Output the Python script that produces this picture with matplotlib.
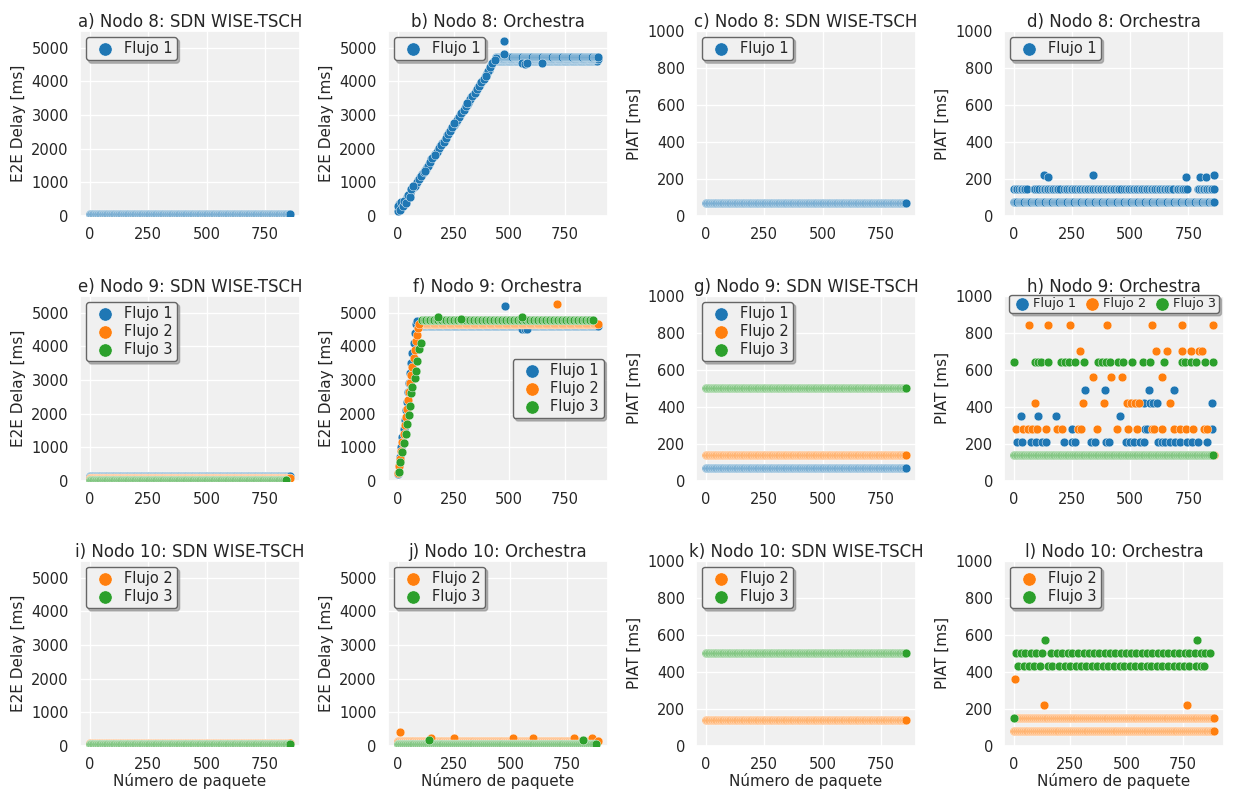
import numpy as np
import matplotlib
matplotlib.use("Agg")
import matplotlib.pyplot as plt
import seaborn as sns

# ------------------------------------------------------------------ textos
titulos = [
    "a) Nodo 8: SDN WISE-TSCH", "b) Nodo 8: Orchestra", "c) Nodo 8: SDN WISE-TSCH", "d) Nodo 8: Orchestra",
    "e) Nodo 9: SDN WISE-TSCH", "f) Nodo 9: Orchestra", "g) Nodo 9: SDN WISE-TSCH", "h) Nodo 9: Orchestra",
    "i) Nodo 10: SDN WISE-TSCH", "j) Nodo 10: Orchestra", "k) Nodo 10: SDN WISE-TSCH", "l) Nodo 10: Orchestra",
]
etiquetas_y = ["E2E Delay [ms]", "E2E Delay [ms]", "PIAT [ms]", "PIAT [ms]"]
etiqueta_x = "Número de paquete"
flujos = ["Flujo 1", "Flujo 2", "Flujo 3"]
x_ticks = [0, 250, 500, 750]
y_ticks_e2e = [0, 1000, 2000, 3000, 4000, 5000]
y_ticks_piat = [0, 200, 400, 600, 800, 1000]

# ------------------------------------------------------------------ datos
# Bandas de valor constante: [primer paquete, ultimo paquete, valor ms, cada n paquetes]
a_f1_bandas = [[0, 860, 60, 3]]
c_f1_bandas = [[0, 860, 70, 3]]
e_f1_bandas = [[0, 860, 150, 3]]
e_f2_bandas = [[0, 860, 100, 3]]
e_f3_bandas = [[0, 845, 30, 3]]
g_f1_bandas = [[0, 860, 70, 3]]
g_f2_bandas = [[0, 860, 140, 3]]
g_f3_bandas = [[0, 860, 500, 3]]
i_f2_bandas = [[0, 860, 100, 3]]
i_f3_bandas = [[0, 860, 50, 3]]
k_f2_bandas = [[0, 860, 140, 3]]
k_f3_bandas = [[0, 860, 500, 3]]

# b) Nodo 8 Orchestra, E2E flujo 1: rampa y meseta
b_f1_x = [0, 10, 20, 30, 40, 50, 60, 70, 80, 90, 100, 110, 120, 130, 140, 150, 160, 170, 180, 190,
          200, 210, 220, 230, 240, 250, 260, 270, 280, 290, 300, 310, 320, 330, 340, 350, 360, 370,
          380, 390, 400, 410, 420, 430, 440,
          5, 15, 25, 35, 45, 55, 65, 75, 85, 95, 105, 115, 125, 135, 145, 155, 165, 175, 185, 195,
          205, 215, 225, 235, 245, 255, 265, 275, 285, 295, 305, 315, 325, 335, 345, 355, 365, 375,
          385, 395, 405, 415, 425, 435,
          2, 8, 14, 22, 28, 36, 44, 52, 58, 66, 120, 165, 250, 310, 395,
          475, 475, 560, 570, 580, 650]
b_f1_y = [150, 250, 330, 420, 560, 640, 780, 850, 950, 1060, 1150, 1260, 1380, 1450, 1560, 1680, 1780,
          1880, 1950, 2080, 2170, 2260, 2400, 2500, 2580, 2690, 2800, 2900, 3010, 3100, 3200, 3310, 3420,
          3530, 3620, 3700, 3820, 3920, 4020, 4120, 4250, 4350, 4480, 4600, 4680,
          350, 330, 380, 480, 600, 700, 820, 900, 1010, 1100, 1200, 1320, 1410, 1500, 1620, 1730, 1830,
          1910, 2020, 2120, 2210, 2330, 2450, 2540, 2640, 2750, 2850, 2950, 3060, 3150, 3260, 3360, 3480,
          3570, 3660, 3760, 3870, 3970, 4070, 4190, 4300, 4420, 4540, 4640,
          300, 180, 420, 300, 450, 380, 620, 560, 800, 900, 1350, 1800, 2750, 3350, 4150,
          5200, 4800, 4540, 4520, 4540, 4550]
b_f1_bandas = [[445, 900, 4610, 4], [450, 900, 4660, 4], [440, 900, 4710, 5]]

# d) Nodo 8 Orchestra, PIAT flujo 1
d_f1_bandas = [[0, 860, 75, 5], [0, 60, 145, 7], [85, 110, 145, 7], [120, 200, 145, 7],
               [215, 460, 145, 7], [475, 690, 145, 7], [700, 745, 145, 7], [790, 860, 145, 7]]
d_f1_x = [130, 145, 340, 740, 800, 825, 860]
d_f1_y = [220, 210, 220, 210, 210, 210, 220]

# f) Nodo 9 Orchestra, E2E
f_f1_x = [0, 5, 10, 15, 20, 25, 30, 35, 40, 45, 50, 55, 60, 65, 70, 75, 80, 85, 480, 560, 570, 580]
f_f1_y = [200, 450, 700, 1000, 1300, 1550, 1800, 2100, 2350, 2650, 2900, 3200, 3500, 3800, 4100,
          4400, 4650, 4750, 5200, 4520, 4500, 4520]
f_f1_bandas = [[90, 900, 4600, 4]]
f_f2_x = [0, 5, 10, 15, 20, 25, 30, 35, 40, 45, 50, 55, 60, 65, 70, 75, 80, 85, 90, 95, 715]
f_f2_y = [250, 450, 650, 900, 1150, 1400, 1650, 1900, 2150, 2400, 2650, 2900, 3150, 3400, 3650,
          3900, 4150, 4350, 4550, 4650, 5250]
f_f2_bandas = [[100, 900, 4660, 4]]
f_f3_x = [5, 10, 20, 25, 35, 40, 50, 55, 60, 65, 75, 80, 85, 95, 105, 180, 285, 560]
f_f3_y = [280, 560, 850, 1120, 1400, 1680, 1950, 2230, 2600, 2780, 3050, 3280, 3550, 3920, 4100,
          4860, 4820, 4860]
f_f3_bandas = [[110, 880, 4780, 6]]

# h) Nodo 9 Orchestra, PIAT
h_f1_x = [14, 33, 71, 93, 121, 136, 214, 250, 261, 329, 350, 397, 407, 481, 500, 516, 543, 557, 621,
          636, 650, 671, 693, 714, 743, 764, 793, 829,
          93, 250, 564, 574, 853,
          29, 103, 181, 457,
          500, 529, 557, 586, 597, 614, 853,
          304, 393, 579, 686]
h_f1_y = [210, 210, 210, 210, 210, 210, 210, 210, 210, 210, 210, 210, 210, 210, 210, 210,
          210, 210, 210, 210, 210, 210, 210, 210, 210, 210, 210, 210,
          280, 280, 280, 280, 280,
          350, 350, 350, 350,
          420, 420, 420, 420, 420, 420, 420,
          490, 490, 490, 490]
h_f2_x = [7, 40, 60, 79, 97, 139, 183, 207, 274, 286, 357, 443, 489, 529, 593, 603, 636, 686, 714,
          740, 769, 819, 829,
          89, 296, 389, 486, 503, 521, 536, 671,
          339, 417, 463, 637,
          283, 611, 657, 724, 760, 797, 807,
          64, 146, 240, 400, 593, 721, 854,
          775, 860]
h_f2_y = [280, 280, 280, 280, 280, 280, 280, 280, 280, 280, 280, 280, 280, 280, 280, 280, 280, 280,
          280, 280, 280, 280, 280,
          420, 420, 420, 420, 420, 420, 420, 420,
          560, 560, 560, 560,
          700, 700, 700, 700, 700, 700, 700,
          840, 840, 840, 840, 840, 840, 840,
          1000, 140]
h_f3_bandas = [[0, 856, 140, 3]]
h_f3_x = [0, 89, 103, 117, 147, 204, 219, 236, 264, 303, 361, 380, 394, 414, 446, 467, 506, 556,
          583, 643, 724, 737, 763, 784, 823, 857]
h_f3_y = [640, 640, 640, 640, 640, 640, 640, 640, 640, 640, 640, 640, 640, 640, 640,
          640, 640, 640, 640, 640, 640, 640, 640, 640, 640, 640]

# j) Nodo 10 Orchestra, E2E
j_f2_bandas = [[0, 890, 160, 3]]
j_f2_x = [10, 145, 250, 510, 600, 785, 865, 890]
j_f2_y = [420, 230, 230, 230, 230, 230, 230, 150]
j_f3_bandas = [[0, 880, 70, 3]]
j_f3_x = [140, 825]
j_f3_y = [170, 170]

# l) Nodo 10 Orchestra, PIAT
l_f2_bandas = [[0, 890, 80, 3], [20, 890, 150, 3]]
l_f2_x = [5, 135, 770]
l_f2_y = [360, 220, 220]
l_f3_x = [0, 140, 815,
          10, 30, 50, 75, 100, 125, 165, 190, 215, 240, 260, 285, 310, 335, 355, 380, 405, 425, 450,
          475, 500, 520, 545, 570, 590, 615, 640, 665, 685, 710, 735, 760, 780, 805, 830, 850, 870,
          20, 45, 65, 90, 115, 150, 170, 200, 225, 250, 275, 300, 320, 345, 370, 395, 420, 445, 470,
          490, 515, 540, 565, 590, 610, 635, 660, 685, 710, 735, 755, 780, 810, 830, 845]
l_f3_y = [150, 570, 570,
          500, 500, 500, 500, 500, 500, 500, 500, 500, 500, 500, 500, 500, 500, 500, 500, 500, 500, 500,
          500, 500, 500, 500, 500, 500, 500, 500, 500, 500, 500, 500, 500, 500, 500, 500, 500, 500,
          430, 430, 430, 430, 430, 430, 430, 430, 430, 430, 430, 430, 430, 430, 430, 430, 430, 430, 430,
          430, 430, 430, 430, 430, 430, 430, 430, 430, 430, 430, 430, 430, 430, 430, 430]

# ------------------------------------------------------------------ estilo
sns.set_theme(style="darkgrid", rc={"axes.facecolor": "#f0f0f0", "grid.color": "white"})
plt.rcParams["font.family"] = ["DejaVu Sans"]
plt.rcParams["text.color"] = "#262626"
colores = ["#1f77b4", "#ff7f0e", "#2ca02c"]


def serie(bandas=(), xs=(), ys=()):
    px, py = [], []
    for ini, fin, val, paso in bandas:
        xx = np.arange(ini, fin + 1, paso)
        px.append(xx)
        py.append(np.full(len(xx), val, dtype=float))
    px.append(np.asarray(xs, dtype=float))
    py.append(np.asarray(ys, dtype=float))
    return np.concatenate(px), np.concatenate(py)


paneles = [
    {0: serie(a_f1_bandas)},
    {0: serie(b_f1_bandas, b_f1_x, b_f1_y)},
    {0: serie(c_f1_bandas)},
    {0: serie(d_f1_bandas, d_f1_x, d_f1_y)},
    {0: serie(e_f1_bandas), 1: serie(e_f2_bandas), 2: serie(e_f3_bandas)},
    {0: serie(f_f1_bandas, f_f1_x, f_f1_y), 1: serie(f_f2_bandas, f_f2_x, f_f2_y),
     2: serie(f_f3_bandas, f_f3_x, f_f3_y)},
    {0: serie(g_f1_bandas), 1: serie(g_f2_bandas), 2: serie(g_f3_bandas)},
    {0: serie((), h_f1_x, h_f1_y), 1: serie((), h_f2_x, h_f2_y), 2: serie(h_f3_bandas, h_f3_x, h_f3_y)},
    {1: serie(i_f2_bandas), 2: serie(i_f3_bandas)},
    {1: serie(j_f2_bandas, j_f2_x, j_f2_y), 2: serie(j_f3_bandas, j_f3_x, j_f3_y)},
    {1: serie(k_f2_bandas), 2: serie(k_f3_bandas)},
    {1: serie(l_f2_bandas, l_f2_x, l_f2_y), 2: serie((), l_f3_x, l_f3_y)},
]

fig, axes = plt.subplots(3, 4, figsize=(12.38, 7.9), dpi=100)
fig.subplots_adjust(left=0.0646, right=0.9887, top=0.961, bottom=0.0557, wspace=0.4, hspace=0.43)

sombra = {"color": "0.55", "alpha": 0.6}
for k, (ax, datos) in enumerate(zip(axes.flat, paneles)):
    fila, col = divmod(k, 4)
    for f, (xs, ys) in datos.items():
        ax.scatter(xs, ys, s=40, color=colores[f], edgecolor="white", linewidth=0.3,
                   label=flujos[f], zorder=3)
    ax.set_title(titulos[k], fontsize=12, pad=3)
    ax.set_ylabel(etiquetas_y[col], fontsize=11)
    ax.set_xticks(x_ticks)
    if col < 2:
        ax.set_ylim(0, 5500)
        ax.set_yticks(y_ticks_e2e)
    else:
        ax.set_ylim(0, 1000)
        ax.set_yticks(y_ticks_piat)
    ax.tick_params(labelsize=10.5, pad=2)
    if fila == 2:
        ax.set_xlabel(etiqueta_x, fontsize=11, labelpad=1)
    if k == 5:
        leg = ax.legend(loc="center right", fontsize=10.5, markerscale=1.5, frameon=True,
                        shadow=sombra, fancybox=True, borderpad=0.3, labelspacing=0.2,
                        handletextpad=0.3, borderaxespad=0.3)
    elif k == 7:
        leg = ax.legend(loc="upper center", bbox_to_anchor=(0.5, 1.005), ncol=3, fontsize=9.3,
                        markerscale=1.5, frameon=True, shadow=sombra, fancybox=True, borderpad=0.2,
                        handletextpad=0.1, columnspacing=0.5, borderaxespad=0.0, handlelength=1.5)
    else:
        leg = ax.legend(loc="upper left", fontsize=10.5, markerscale=1.5, frameon=True,
                        shadow=sombra, fancybox=True, borderpad=0.3, labelspacing=0.2,
                        handletextpad=0.3, borderaxespad=0.4)
    leg.get_frame().set_edgecolor("#666666")
    leg.get_frame().set_facecolor("#f0f0f0")
    leg.get_frame().set_alpha(1)
    leg.set_zorder(5)

fig.savefig("out.png", dpi=100)
